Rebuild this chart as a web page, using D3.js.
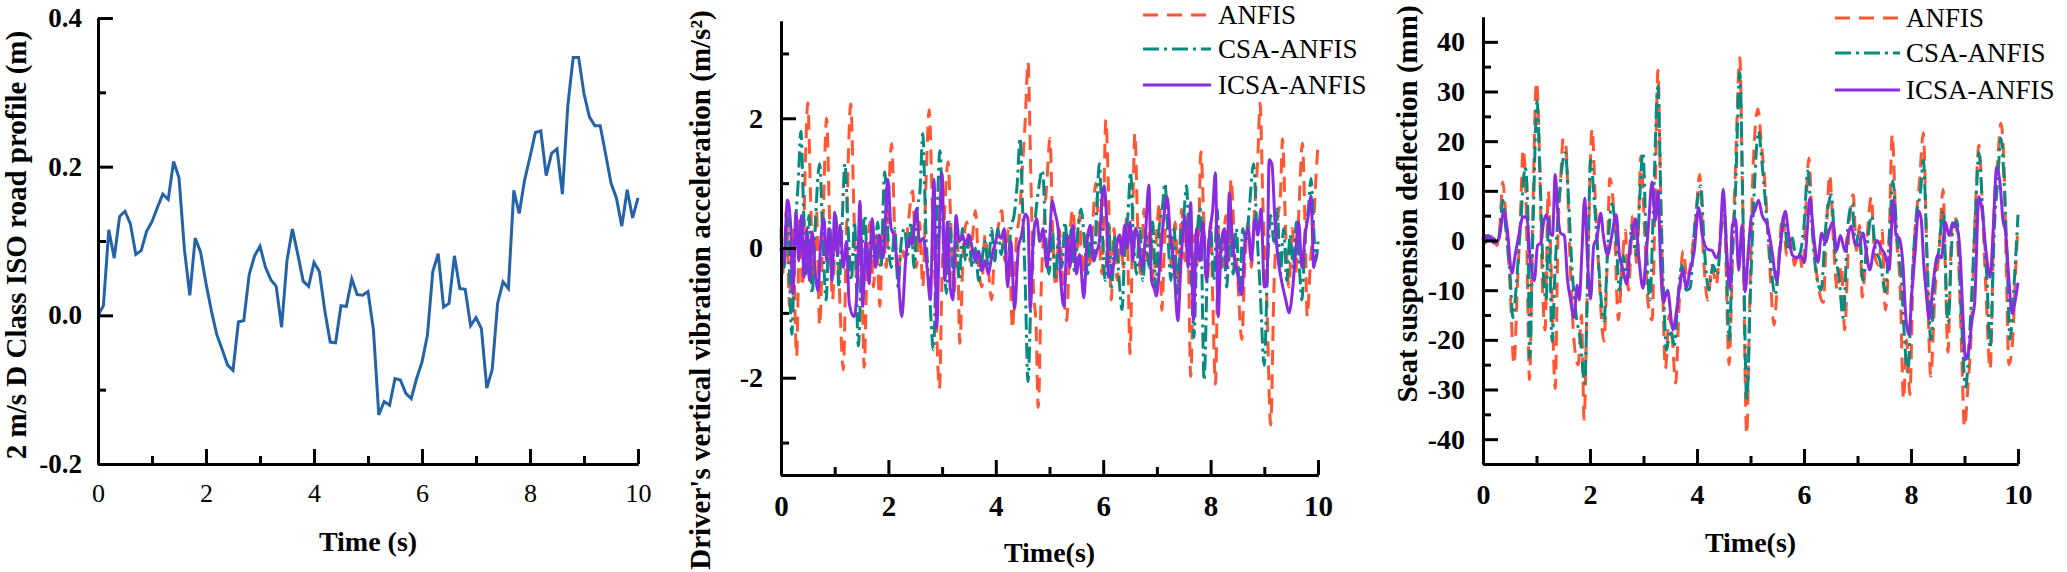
<!DOCTYPE html>
<html>
<head>
<meta charset="utf-8">
<script src="https://cdn.jsdelivr.net/npm/d3@7"></script>
<style>
  body { margin: 0; background: #fff; }
  svg { display: block; }
  svg text { font-family: "Liberation Serif", "Times New Roman", serif; }
</style>
</head>
<body>
<svg id="chart" width="2067" height="572"></svg>
<script>
// ---------- data ----------
var timeTicks = [0, 2, 4, 6, 8, 10];
var timeMinor = [1, 3, 5, 7, 9];
var legendNames = ["ANFIS", "CSA-ANFIS", "ICSA-ANFIS"];
var seriesColors = ["#ff5733", "#078a80", "#8a2be2"];
var seriesDash = ["15,9", "16,5,3,5", null];

// road profile, one sample every 0.1 s
var roadStep = 0.1;
var roadProfile = [0, 0.013, 0.115, 0.077, 0.133, 0.14, 0.123, 0.082, 0.087, 0.113,
  0.126, 0.145, 0.163, 0.156, 0.207, 0.185, 0.089, 0.027, 0.104, 0.085,
  0.043, 0.006, -0.026, -0.046, -0.067, -0.074, -0.009, -0.007, 0.055, 0.080,
  0.093, 0.065, 0.048, 0.039, -0.016, 0.074, 0.116, 0.082, 0.046, 0.039,
  0.071, 0.059, 0.006, -0.036, -0.037, 0.013, 0.012, 0.049, 0.028, 0.027,
  0.032, -0.019, -0.134, -0.116, -0.121, -0.085, -0.087, -0.105, -0.112, -0.085,
  -0.063, -0.027, 0.059, 0.083, 0.011, 0.016, 0.080, 0.036, 0.035, -0.014,
  -0.003, -0.018, -0.098, -0.073, 0.016, 0.045, 0.036, 0.168, 0.137, 0.182,
  0.213, 0.246, 0.248, 0.188, 0.218, 0.224, 0.163, 0.282, 0.347, 0.347,
  0.298, 0.267, 0.255, 0.255, 0.217, 0.178, 0.158, 0.120, 0.169, 0.131, 0.158];

// driver's vertical vibration acceleration [t (s), a (m/s2)]
var accelANFIS = [[0,0.2],[0.05,-0.4],[0.1,0.6],[0.16,-0.9],[0.22,0.3],[0.29,-1.67],[0.35,0.5],[0.4,-0.6],[0.45,1.2],[0.5,2.24],
  [0.55,0.8],[0.6,-0.5],[0.66,0.6],[0.72,-1.2],[0.78,0.3],[0.85,2.0],[0.9,0.6],[0.96,-0.8],[1.02,0.4],[1.08,-0.5],
  [1.16,-1.88],[1.22,0.3],[1.3,2.22],[1.36,0.5],[1.42,-0.6],[1.48,0.5],[1.55,-1.84],[1.6,-0.3],[1.66,0.4],[1.72,-0.6],
  [1.78,0.2],[1.84,-0.9],[1.9,0.3],[1.96,-0.3],[2.01,0.9],[2.06,1.61],[2.12,0.2],[2.18,-0.4],[2.24,0.0],[2.3,-0.15],
  [2.36,0.3],[2.45,0.88],[2.52,-0.3],[2.58,0.4],[2.64,-0.6],[2.7,1.0],[2.76,2.13],[2.82,0.6],[2.88,-0.8],[2.95,-2.17],
  [3.0,-0.4],[3.05,0.6],[3.11,1.33],[3.17,0.2],[3.22,-0.7],[3.28,0.3],[3.33,-1.47],[3.4,0.1],[3.46,0.4],[3.52,-0.2],
  [3.58,0.3],[3.62,0.58],[3.68,-0.3],[3.74,-0.6],[3.8,0.2],[3.86,-0.3],[3.92,-0.8],[3.98,0.0],[4.04,0.3],[4.11,0.58],
  [4.17,-0.2],[4.24,0.3],[4.31,-1.25],[4.38,0.1],[4.44,0.5],[4.5,1.3],[4.55,2.0],[4.6,2.87],[4.65,1.2],[4.7,-0.6],
  [4.75,-1.2],[4.79,-2.46],[4.85,-0.5],[4.9,0.4],[4.95,1.0],[5.01,1.69],[5.06,0.2],[5.12,-0.6],[5.18,0.3],[5.24,-0.4],
  [5.32,-1.12],[5.38,0.2],[5.44,0.6],[5.5,-0.3],[5.56,0.5],[5.62,-0.6],[5.68,0.2],[5.74,-0.3],[5.8,0.3],[5.86,1.0],
  [5.92,0.2],[5.98,-0.4],[6.05,1.98],[6.1,0.8],[6.15,-0.8],[6.2,0.3],[6.26,-0.5],[6.32,0.2],[6.38,-0.3],[6.44,0.5],
  [6.5,-1.63],[6.55,0.5],[6.59,1.77],[6.64,0.4],[6.7,-0.4],[6.76,0.6],[6.82,-0.2],[6.88,0.4],[6.94,-0.5],[7.0,0.3],
  [7.05,0.7],[7.09,-0.96],[7.15,0.2],[7.21,0.5],[7.27,-0.3],[7.34,0.4],[7.4,-0.6],[7.46,0.6],[7.52,-0.2],[7.57,0.4],
  [7.63,-1.98],[7.7,0.2],[7.76,-0.3],[7.82,1.48],[7.88,0.3],[7.94,-0.5],[8.0,0.4],[8.04,-0.8],[8.09,-2.1],[8.15,0.3],
  [8.22,-0.3],[8.28,0.5],[8.34,-0.2],[8.38,1.07],[8.44,0.2],[8.5,-0.4],[8.58,-1.41],[8.64,-0.2],[8.7,0.4],[8.76,-0.3],
  [8.82,0.6],[8.88,1.4],[8.92,2.23],[8.98,0.5],[9.04,-0.6],[9.12,-2.73],[9.18,-0.6],[9.24,0.4],[9.3,0.8],[9.34,1.68],
  [9.4,0.2],[9.46,-0.6],[9.52,0.3],[9.58,-0.4],[9.64,0.5],[9.71,1.62],[9.76,0.3],[9.8,-1.06],[9.86,-0.2],[9.92,0.4],
  [9.97,1.2],[10,1.6]];

var accelCSA = [[0,0.3],[0.06,-0.3],[0.12,0.5],[0.2,-1.33],[0.26,0.2],[0.32,1.0],[0.37,1.8],[0.42,0.6],[0.47,-0.4],[0.52,0.5],
  [0.58,-0.7],[0.64,0.4],[0.72,1.3],[0.78,0.1],[0.84,-0.8],[0.9,0.4],[0.96,-0.3],[1.02,0.5],[1.08,-0.6],[1.13,0.2],
  [1.19,1.3],[1.25,0.3],[1.31,-0.5],[1.37,0.4],[1.44,-1.51],[1.5,-0.2],[1.56,0.5],[1.62,-0.4],[1.68,0.2],[1.74,-0.2],
  [1.8,0.4],[1.86,-0.3],[1.93,1.17],[1.99,0.2],[2.05,-0.3],[2.12,0.3],[2.18,-0.6],[2.24,0.1],[2.3,0.3],[2.36,-0.1],
  [2.42,0.4],[2.48,-0.3],[2.54,0.6],[2.59,0.9],[2.64,1.76],[2.7,0.2],[2.76,-0.6],[2.84,-1.57],[2.9,0.3],[2.96,1.5],
  [3.02,0.2],[3.08,-0.7],[3.14,0.4],[3.2,-0.3],[3.26,0.1],[3.32,-0.5],[3.38,0.3],[3.44,-0.2],[3.5,0.2],[3.56,-0.3],
  [3.62,0.0],[3.68,-0.5],[3.74,-0.2],[3.8,0.1],[3.86,-0.3],[3.92,0.3],[3.98,-0.2],[4.04,0.3],[4.1,-0.1],[4.16,0.2],
  [4.22,-0.4],[4.28,0.3],[4.34,0.5],[4.4,1.0],[4.45,1.7],[4.5,0.6],[4.55,-0.6],[4.6,-2.06],[4.66,-0.6],[4.72,0.3],
  [4.78,0.8],[4.87,1.2],[4.93,0.2],[4.99,-0.4],[5.05,0.3],[5.11,-0.5],[5.17,0.2],[5.23,-0.3],[5.29,0.4],[5.35,-0.2],
  [5.41,0.3],[5.47,-0.4],[5.53,0.3],[5.59,0.6],[5.65,0.1],[5.71,-0.4],[5.77,0.3],[5.83,-0.2],[5.88,0.6],[5.93,1.3],
  [5.98,0.3],[6.04,-0.5],[6.1,0.4],[6.16,-0.6],[6.22,0.2],[6.28,-0.3],[6.35,-0.95],[6.41,0.2],[6.46,0.5],[6.51,1.17],
  [6.56,0.2],[6.62,-0.4],[6.68,0.3],[6.74,-0.5],[6.8,0.2],[6.86,-0.3],[6.92,0.4],[6.98,-0.6],[7.04,0.3],[7.1,0.6],
  [7.15,1.0],[7.2,0.3],[7.26,-0.5],[7.32,0.3],[7.38,-0.7],[7.44,0.2],[7.5,0.5],[7.55,0.96],[7.6,0.1],[7.65,-0.6],
  [7.69,-1.38],[7.75,0.2],[7.81,0.6],[7.88,-2.04],[7.94,-0.3],[8.0,0.3],[8.06,-0.5],[8.12,0.6],[8.18,-0.3],[8.24,0.2],
  [8.3,-0.6],[8.36,0.4],[8.42,-0.4],[8.48,0.3],[8.54,-0.7],[8.6,0.3],[8.66,0.1],[8.72,0.6],[8.8,1.3],[8.86,0.3],
  [8.92,-0.6],[9.0,-1.81],[9.06,-0.3],[9.12,0.5],[9.18,0.1],[9.24,0.6],[9.3,-0.4],[9.36,0.3],[9.42,-0.5],[9.48,0.2],
  [9.54,-0.3],[9.6,0.4],[9.66,-0.4],[9.7,-0.8],[9.76,0.2],[9.82,0.6],[9.87,1.07],[9.92,0.3],[9.96,-0.2],[10,0.1]];

var accelICSA = [[0,0],[0.05,-0.25],[0.12,0.74],[0.18,0.35],[0.22,-0.71],[0.28,0.55],[0.33,-0.2],[0.38,0.5],[0.43,-0.45],[0.48,0.3],
  [0.53,-0.5],[0.58,0.25],[0.64,-0.4],[0.69,-0.66],[0.74,0.1],[0.8,0.45],[0.85,-0.2],[0.9,0.3],[0.95,-0.5],[1.0,0.55],
  [1.05,-0.1],[1.1,0.35],[1.16,-0.3],[1.22,0.1],[1.27,-0.85],[1.36,-1.06],[1.42,-0.6],[1.47,0.72],[1.52,-0.9],[1.58,0.1],
  [1.64,-0.55],[1.7,0.45],[1.76,-0.3],[1.83,0.2],[1.9,-0.15],[1.99,1.06],[2.05,0.3],[2.1,0.2],[2.17,-0.3],[2.25,-1.06],
  [2.32,-0.2],[2.38,0.15],[2.44,0.05],[2.52,0.6],[2.58,0.1],[2.65,0.15],[2.72,-0.3],[2.78,-0.8],[2.85,1.06],[2.9,-1.23],
  [2.95,0.3],[3.0,1.15],[3.05,-0.5],[3.1,0.4],[3.15,-0.6],[3.2,-0.8],[3.26,0.5],[3.32,0.1],[3.38,0.2],[3.44,0.05],
  [3.5,0.2],[3.56,0.0],[3.62,-0.2],[3.68,-0.05],[3.74,-0.35],[3.8,-0.2],[3.86,-0.4],[3.92,-0.15],[3.98,0.05],[4.04,0.2],
  [4.1,0.15],[4.16,0.3],[4.22,-0.6],[4.28,0.1],[4.35,-0.94],[4.42,0.0],[4.48,0.2],[4.55,0.52],[4.6,0.45],[4.64,-0.94],
  [4.7,0.2],[4.76,0.45],[4.82,0.1],[4.88,0.3],[4.95,-0.3],[5.0,0.1],[5.05,0.73],[5.1,0.55],[5.16,0.3],[5.21,-0.5],
  [5.27,-0.9],[5.33,0.2],[5.38,-0.3],[5.44,0.35],[5.5,-0.4],[5.56,-0.1],[5.64,-0.77],[5.7,0.1],[5.76,0.35],[5.82,-0.2],
  [5.88,-0.05],[5.93,0.1],[5.97,0.7],[6.02,0.96],[6.06,0.5],[6.1,-0.45],[6.18,-0.3],[6.24,0.0],[6.3,0.2],[6.35,-0.1],
  [6.4,0.35],[6.45,0.0],[6.5,0.4],[6.55,-0.2],[6.6,0.3],[6.66,0.1],[6.72,-0.3],[6.78,0.1],[6.85,0.97],[6.9,-0.5],
  [6.96,-0.65],[6.99,-0.74],[7.05,-0.3],[7.12,0.4],[7.19,0.79],[7.25,0.2],[7.32,-0.3],[7.39,-1.12],[7.45,-0.2],[7.52,0.5],
  [7.58,-0.3],[7.63,0.7],[7.68,-1.12],[7.74,0.3],[7.8,-0.2],[7.86,0.4],[7.92,-0.5],[7.98,0.2],[8.04,0.6],[8.09,1.16],
  [8.14,-1.06],[8.2,0.1],[8.26,0.3],[8.3,-0.3],[8.35,0.85],[8.4,0.2],[8.45,-0.2],[8.5,-0.4],[8.58,-0.72],[8.64,0.1],
  [8.7,0.3],[8.76,-0.2],[8.82,0.45],[8.88,0.2],[8.94,0.6],[9.0,-0.6],[9.05,-0.55],[9.09,1.36],[9.14,1.3],[9.2,0.4],
  [9.26,-0.2],[9.32,-0.5],[9.4,-0.8],[9.46,-1.0],[9.52,-0.7],[9.58,-0.1],[9.64,0.4],[9.7,-0.3],[9.76,0.2],[9.82,0.5],
  [9.87,0.8],[9.92,-0.3],[9.97,-0.1],[10,-0.1]];

// seat suspension deflection [t (s), d (mm)]
var seatANFIS = [[0,0.5],[0.05,-0.5],[0.1,1.0],[0.15,-0.5],[0.2,0.5],[0.26,-1.0],[0.31,2.0],[0.37,11.8],[0.43,4.0],[0.5,-8.0],
  [0.58,-25.0],[0.64,-10.0],[0.7,5.0],[0.75,18.4],[0.8,10.0],[0.87,-28.0],[0.93,5.0],[1.0,32.0],[1.05,20.0],[1.1,-5.0],
  [1.16,-18.0],[1.22,10.0],[1.28,-8.0],[1.35,-29.8],[1.4,0.0],[1.45,12.0],[1.5,20.6],[1.55,19.0],[1.62,-2.0],[1.7,-20.0],
  [1.78,-25.0],[1.84,-15.0],[1.89,-36.0],[1.95,-10.0],[2.04,22.5],[2.1,8.0],[2.16,-5.0],[2.26,-20.3],[2.32,-5.0],[2.37,12.5],
  [2.45,5.0],[2.53,-16.0],[2.6,-5.0],[2.66,2.0],[2.72,-10.0],[2.8,5.0],[2.88,-5.0],[2.95,17.0],[3.02,2.0],[3.08,-12.0],
  [3.16,-16.0],[3.22,10.0],[3.27,34.3],[3.32,10.0],[3.36,-10.0],[3.41,-25.8],[3.48,-15.0],[3.54,-20.0],[3.6,-28.7],[3.67,-12.0],
  [3.74,-2.0],[3.82,-8.0],[3.9,-3.0],[3.98,5.0],[4.05,13.3],[4.12,-3.0],[4.2,-12.0],[4.28,-5.0],[4.36,-9.0],[4.44,2.0],
  [4.5,8.0],[4.6,-25.0],[4.66,-5.0],[4.72,15.0],[4.8,36.8],[4.85,10.0],[4.93,-39.0],[4.98,-15.0],[5.05,15.0],[5.14,26.5],
  [5.2,20.0],[5.28,10.0],[5.36,-5.0],[5.44,-17.0],[5.52,-5.0],[5.6,5.0],[5.68,-3.0],[5.76,0.0],[5.82,-5.0],[5.9,-2.2],
  [5.98,-6.0],[6.03,5.0],[6.09,16.6],[6.15,5.0],[6.22,-5.0],[6.36,-12.5],[6.42,2.0],[6.48,13.3],[6.55,0.0],[6.62,-10.0],
  [6.7,-5.0],[6.76,-18.0],[6.84,2.0],[6.92,9.2],[6.98,-2.0],[7.04,3.0],[7.09,-11.4],[7.16,-2.0],[7.26,8.8],[7.32,-3.0],
  [7.4,-5.0],[7.46,2.0],[7.52,-14.0],[7.58,-5.0],[7.65,21.4],[7.72,2.0],[7.8,-10.0],[7.86,-32.0],[7.92,-20.0],[7.98,-31.0],
  [8.04,-5.0],[8.1,5.0],[8.16,12.0],[8.23,21.7],[8.3,-5.0],[8.37,-27.3],[8.45,-10.0],[8.52,-3.0],[8.6,10.3],[8.64,-5.0],
  [8.69,-22.5],[8.76,2.0],[8.82,5.0],[8.88,-2.0],[8.94,-20.0],[9.0,-37.6],[9.06,-30.0],[9.12,-20.0],[9.2,5.0],[9.27,19.2],
  [9.34,5.0],[9.4,-10.0],[9.48,-26.0],[9.55,5.0],[9.62,16.0],[9.68,23.6],[9.74,15.0],[9.78,-5.0],[9.83,-25.0],[9.9,-20.0],
  [9.96,-5.0],[10,3.0]];

var seatCSA = [[0,0.5],[0.05,0.0],[0.1,1.0],[0.15,-0.5],[0.2,0.3],[0.26,-0.5],[0.31,1.5],[0.37,8.1],[0.43,2.0],[0.5,-6.0],
  [0.56,-15.5],[0.63,-8.0],[0.7,3.0],[0.79,14.7],[0.84,5.0],[0.87,-23.6],[0.94,5.0],[1.01,28.0],[1.06,15.0],[1.12,-5.0],
  [1.18,-12.0],[1.23,5.0],[1.29,-20.3],[1.35,-5.0],[1.42,8.0],[1.54,17.7],[1.6,8.0],[1.66,-5.0],[1.74,-15.0],[1.82,-20.0],
  [1.9,-28.7],[1.96,-5.0],[2.01,16.2],[2.08,8.0],[2.15,-3.0],[2.26,-16.2],[2.33,-2.0],[2.41,7.4],[2.48,2.0],[2.55,-10.0],
  [2.62,-3.0],[2.7,-8.0],[2.78,3.0],[2.86,-3.0],[2.99,17.7],[3.05,0.0],[3.12,-12.0],[3.18,5.0],[3.27,31.0],[3.33,5.0],
  [3.38,-12.0],[3.43,-22.1],[3.5,-18.0],[3.58,-21.0],[3.64,-12.0],[3.72,-5.0],[3.8,-10.0],[3.87,-9.6],[3.95,2.0],[4.07,11.0],
  [4.14,-2.0],[4.22,-10.0],[4.3,-5.0],[4.38,-7.0],[4.46,3.0],[4.52,5.0],[4.6,-20.0],[4.66,-3.0],[4.72,10.0],[4.8,33.9],
  [4.86,5.0],[4.93,-32.4],[5.0,-10.0],[5.07,10.0],[5.15,22.0],[5.22,15.0],[5.3,5.0],[5.38,-5.0],[5.46,-11.0],[5.54,-3.0],
  [5.62,5.0],[5.7,-2.0],[5.78,0.5],[5.86,-4.0],[5.94,-2.0],[6.0,3.0],[6.07,14.0],[6.14,4.0],[6.22,-6.0],[6.32,-10.0],
  [6.4,2.0],[6.51,9.2],[6.58,-2.0],[6.66,-8.0],[6.73,-15.5],[6.82,3.0],[6.9,7.4],[6.96,-1.0],[7.04,2.0],[7.1,-8.0],
  [7.18,-1.0],[7.26,5.0],[7.34,-2.0],[7.42,-4.0],[7.52,-10.3],[7.6,2.0],[7.66,12.0],[7.74,1.0],[7.82,-8.0],[7.88,-20.0],
  [7.94,-26.5],[8.02,-8.0],[8.1,5.0],[8.18,10.0],[8.23,16.2],[8.3,-3.0],[8.37,-20.0],[8.44,-8.0],[8.52,-2.0],[8.6,6.0],
  [8.69,-16.6],[8.78,2.0],[8.86,4.0],[8.94,-15.0],[9.02,-29.5],[9.1,-18.0],[9.2,4.0],[9.27,17.7],[9.34,6.0],[9.42,-8.0],
  [9.48,-21.7],[9.56,3.0],[9.62,12.0],[9.68,20.6],[9.74,12.0],[9.8,-5.0],[9.85,-19.9],[9.92,-10.0],[10,5.2]];

var seatICSA = [[0,0.0],[0.05,1.0],[0.1,0.2],[0.15,0.8],[0.2,-0.5],[0.25,-0.3],[0.3,0.4],[0.39,5.9],[0.45,2.5],[0.54,-6.6],
  [0.6,-3.0],[0.66,0.5],[0.75,4.8],[0.82,4.5],[0.88,-3.5],[0.96,-8.1],[1.02,-1.0],[1.08,-0.5],[1.13,3.5],[1.19,5.2],
  [1.24,2.0],[1.3,1.0],[1.35,13.3],[1.4,5.0],[1.45,1.5],[1.52,1.0],[1.58,-8.0],[1.63,-11.5],[1.7,-15.5],[1.76,-9.0],
  [1.8,-12.0],[1.85,-2.0],[1.9,8.5],[1.95,-3.0],[2.01,-11.8],[2.07,-1.0],[2.13,0.5],[2.2,5.5],[2.25,1.0],[2.33,-2.9],
  [2.4,0.5],[2.49,5.2],[2.55,-3.0],[2.62,-6.0],[2.68,-8.8],[2.74,-2.0],[2.8,2.0],[2.85,4.4],[2.91,-3.0],[2.99,-9.6],
  [3.05,-3.0],[3.1,4.0],[3.16,11.8],[3.22,4.0],[3.27,10.0],[3.32,-5.0],[3.37,-12.5],[3.45,-10.0],[3.55,-18.0],[3.62,-14.0],
  [3.68,-9.0],[3.74,-5.9],[3.8,-9.5],[3.87,-6.0],[3.95,-2.0],[4.03,6.6],[4.1,1.0],[4.2,-1.8],[4.28,-2.0],[4.36,-3.5],
  [4.42,-2.0],[4.49,10.3],[4.55,-1.0],[4.61,-9.6],[4.66,3.0],[4.72,4.4],[4.78,-6.0],[4.84,3.0],[4.9,-10.3],[4.96,-2.0],
  [5.02,5.0],[5.08,6.0],[5.15,8.1],[5.22,5.0],[5.32,2.9],[5.4,-2.0],[5.49,-8.1],[5.56,-1.0],[5.65,5.9],[5.72,0.5],
  [5.78,-2.9],[5.86,-3.5],[5.93,-3.0],[6.01,-4.4],[6.06,2.0],[6.11,8.5],[6.18,1.0],[6.26,-4.4],[6.33,1.5],[6.4,-0.5],
  [6.47,2.0],[6.54,3.7],[6.61,-2.0],[6.68,1.0],[6.77,-2.2],[6.82,1.0],[6.88,2.9],[6.95,-0.5],[7.02,-1.0],[7.1,1.5],
  [7.16,-2.0],[7.23,-5.9],[7.3,-2.0],[7.36,0.0],[7.44,-1.5],[7.52,-3.0],[7.59,-5.9],[7.67,8.1],[7.72,1.0],[7.78,0.5],
  [7.85,-5.0],[7.9,-15.0],[7.96,-19.0],[8.02,-10.0],[8.08,-2.0],[8.14,6.0],[8.19,4.4],[8.24,-5.0],[8.28,-10.0],[8.34,-15.8],
  [8.42,-8.0],[8.5,-2.9],[8.57,-3.5],[8.64,3.7],[8.71,1.0],[8.78,3.5],[8.87,2.2],[8.93,-5.0],[8.97,-15.0],[9.02,-24.0],
  [9.08,-22.0],[9.14,-16.0],[9.19,-12.5],[9.27,8.8],[9.33,6.0],[9.4,-2.0],[9.48,-7.4],[9.54,3.0],[9.6,14.7],[9.66,12.0],
  [9.72,4.0],[9.77,1.5],[9.83,-8.0],[9.89,-14.7],[9.95,-12.0],[10,-8.5]];

// ---------- drawing ----------
var svg = d3.select("#chart");

function drawPanel(p) {
  var x = d3.scaleLinear().domain([0, 10]).range([p.left, p.right]);
  var y = d3.scaleLinear().domain(p.yDomain).range([p.bottom, p.top]);
  var g = svg.append("g");

  // data lines first, axes on top
  var line = d3.line()
    .x(function(d) { return x(d[0]); })
    .y(function(d) { return y(d[1]); })
    .curve(p.curve);

  p.series.forEach(function(s) {
    g.append("path")
      .datum(s.data)
      .attr("fill", "none")
      .attr("stroke", s.color)
      .attr("stroke-width", 3)
      .attr("stroke-dasharray", s.dash)
      .attr("d", line);
  });

  // x axis: inward ticks
  g.append("g")
    .attr("transform", "translate(0," + p.bottom + ")")
    .call(d3.axisBottom(x).tickValues(timeMinor).tickSize(-8).tickSizeOuter(0).tickFormat(""));
  var xMajor = g.append("g")
    .attr("transform", "translate(0," + p.bottom + ")")
    .call(d3.axisBottom(x).tickValues(timeTicks).tickSize(-15).tickSizeOuter(0).tickPadding(p.xPad)
      .tickFormat(function(d) { return d; }));
  xMajor.selectAll("text")
    .style("font-size", p.xFont + "px")
    .style("font-weight", p.xWeight);

  g.append("g")
    .attr("transform", "translate(" + p.left + ",0)")
    .call(d3.axisLeft(y).tickValues(p.yMinor).tickSize(-8).tickSizeOuter(0).tickFormat(""));
  var yMajor = g.append("g")
    .attr("transform", "translate(" + p.left + ",0)")
    .call(d3.axisLeft(y).tickValues(p.yMajor).tickSize(-15).tickSizeOuter(0).tickPadding(p.yPad)
      .tickFormat(p.yFormat));
  yMajor.selectAll("text")
    .style("font-size", p.yFont + "px")
    .style("font-weight", "bold");

  g.selectAll(".domain, .tick line")
    .attr("stroke", "#000")
    .attr("stroke-width", 3);

  // axis titles
  g.append("text")
    .attr("x", (p.left + p.right) / 2)
    .attr("y", p.xTitleY)
    .attr("text-anchor", "middle")
    .style("font-size", "28px")
    .style("font-weight", "bold")
    .text(p.xTitle);

  g.append("text")
    .attr("transform", "translate(" + p.yTitleX + "," + p.yTitleY + ") rotate(-90)")
    .attr("dy", "0.35em")
    .attr("text-anchor", "middle")
    .style("font-size", "29px")
    .style("font-weight", "bold")
    .text(p.yTitle);

  // legend
  if (p.legend) {
    p.series.forEach(function(s, i) {
      var ly = p.legend.rows[i];
      g.append("line")
        .attr("x1", p.legend.x1).attr("x2", p.legend.x2)
        .attr("y1", ly).attr("y2", ly)
        .attr("stroke", s.color)
        .attr("stroke-width", 3)
        .attr("stroke-dasharray", s.dash);
      g.append("text")
        .attr("x", p.legend.tx)
        .attr("y", ly)
        .attr("dy", "0.35em")
        .style("font-size", "27px")
        .text(legendNames[i]);
    });
  }
}

function plain(d) { return String(d); }

drawPanel({
  left: 98, right: 638, top: 18, bottom: 464,
  yDomain: [-0.2, 0.4], yMajor: [-0.2, 0, 0.2, 0.4], yMinor: [-0.1, 0.1, 0.3],
  yFormat: function(d) { return d.toFixed(1); },
  yFont: 27, yPad: 16, xFont: 26, xWeight: "normal", xPad: 20,
  curve: d3.curveLinear,
  series: [{ data: roadProfile.map(function(v, i) { return [i * roadStep, v]; }), color: "#2563a8", dash: null }],
  xTitle: "Time (s)", xTitleY: 551,
  yTitle: "2 m/s D Class ISO road profile (m)", yTitleX: 16, yTitleY: 245
});

drawPanel({
  left: 781, right: 1318, top: 21, bottom: 475,
  yDomain: [-3.5, 3.5], yMajor: [-2, 0, 2], yMinor: [-3, -1, 1, 3],
  yFormat: plain, yFont: 28, yPad: 18, xFont: 29, xWeight: "bold", xPad: 20,
  curve: d3.curveMonotoneX,
  series: [
    { data: accelANFIS, color: seriesColors[0], dash: seriesDash[0] },
    { data: accelCSA, color: seriesColors[1], dash: seriesDash[1] },
    { data: accelICSA, color: seriesColors[2], dash: seriesDash[2] }
  ],
  xTitle: "Time(s)", xTitleY: 562,
  yTitle: "Driver's vertical vibration acceleration (m/s\u00b2)", yTitleX: 700, yTitleY: 290,
  legend: { x1: 1143, x2: 1211, tx: 1218, rows: [15, 49, 85] }
});

drawPanel({
  left: 1483, right: 2018, top: 17, bottom: 464,
  yDomain: [-45, 45], yMajor: [-40, -30, -20, -10, 0, 10, 20, 30, 40],
  yMinor: [-35, -25, -15, -5, 5, 15, 25, 35],
  yFormat: plain, yFont: 28, yPad: 18, xFont: 28, xWeight: "bold", xPad: 20,
  curve: d3.curveMonotoneX,
  series: [
    { data: seatANFIS, color: seriesColors[0], dash: seriesDash[0] },
    { data: seatCSA, color: seriesColors[1], dash: seriesDash[1] },
    { data: seatICSA, color: seriesColors[2], dash: seriesDash[2] }
  ],
  xTitle: "Time(s)", xTitleY: 552,
  yTitle: "Seat suspension deflection (mm)", yTitleX: 1407, yTitleY: 204,
  legend: { x1: 1835, x2: 1900, tx: 1906, rows: [18, 53, 90] }
});
</script>
</body>
</html>
